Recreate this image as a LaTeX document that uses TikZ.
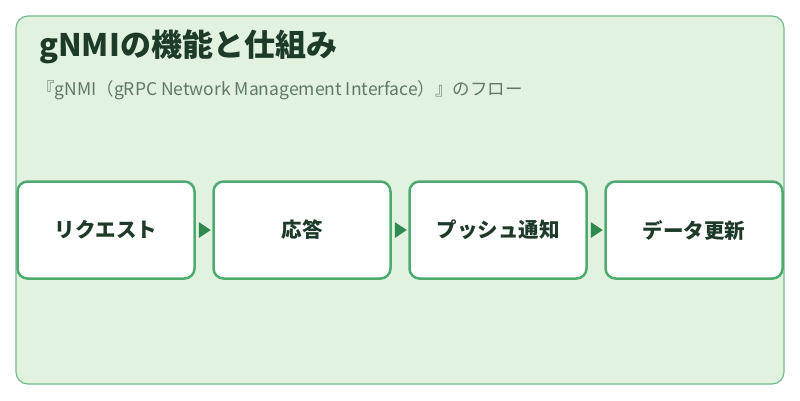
\documentclass[tikz,border=0pt]{standalone}
\usepackage{fontspec}
\usetikzlibrary{calc}
\setmainfont{Noto Sans CJK JP}
\begin{document}
\begin{tikzpicture}[x=1pt,y=-1pt,
  stepbox/.style={draw=boxc,line width=2.5pt,fill=white,rounded corners=10pt,minimum width=177pt,minimum height=97pt,font=\bfseries\fontsize{20.5}{24}\selectfont,text=titc},
  tri/.style={fill=arrc}]
\definecolor{bgc}{HTML}{E1F2E0}
\definecolor{boxc}{HTML}{4FAA6E}
\definecolor{arrc}{HTML}{2E8A4E}
\definecolor{titc}{HTML}{1E3A28}
\definecolor{subc}{HTML}{5E7A66}
\useasboundingbox (0,0) rectangle (800,400);
\fill[white] (0,0) rectangle (800,400);
\draw[draw=boxc!80,fill=bgc,line width=1.2pt,rounded corners=12pt] (16,16) rectangle (784,384);
\node[anchor=west,inner sep=0pt,font=\bfseries\fontsize{31}{36}\selectfont,text=titc] (title) at (39,47) {gNMIの機能と仕組み};
\node[anchor=west,inner sep=0pt,font=\fontsize{17.5}{21}\selectfont,text=subc] (sub) at (37,90) {『gNMI（gRPC Network Management Interface）』のフロー};
\node[stepbox] (a) at (106,230) {リクエスト};
\node[stepbox] (b) at (302,230) {応答};
\node[stepbox] (c) at (498,230) {プッシュ通知};
\node[stepbox] (d) at (694,230) {データ更新};
\foreach \p/\q in {a/b,b/c,c/d}{
  \fill[tri] ($(\p.east)+(3,-8)$) -- ($(\p.east)+(15,0)$) -- ($(\p.east)+(3,8)$) -- cycle;
}
\end{tikzpicture}
\end{document}
